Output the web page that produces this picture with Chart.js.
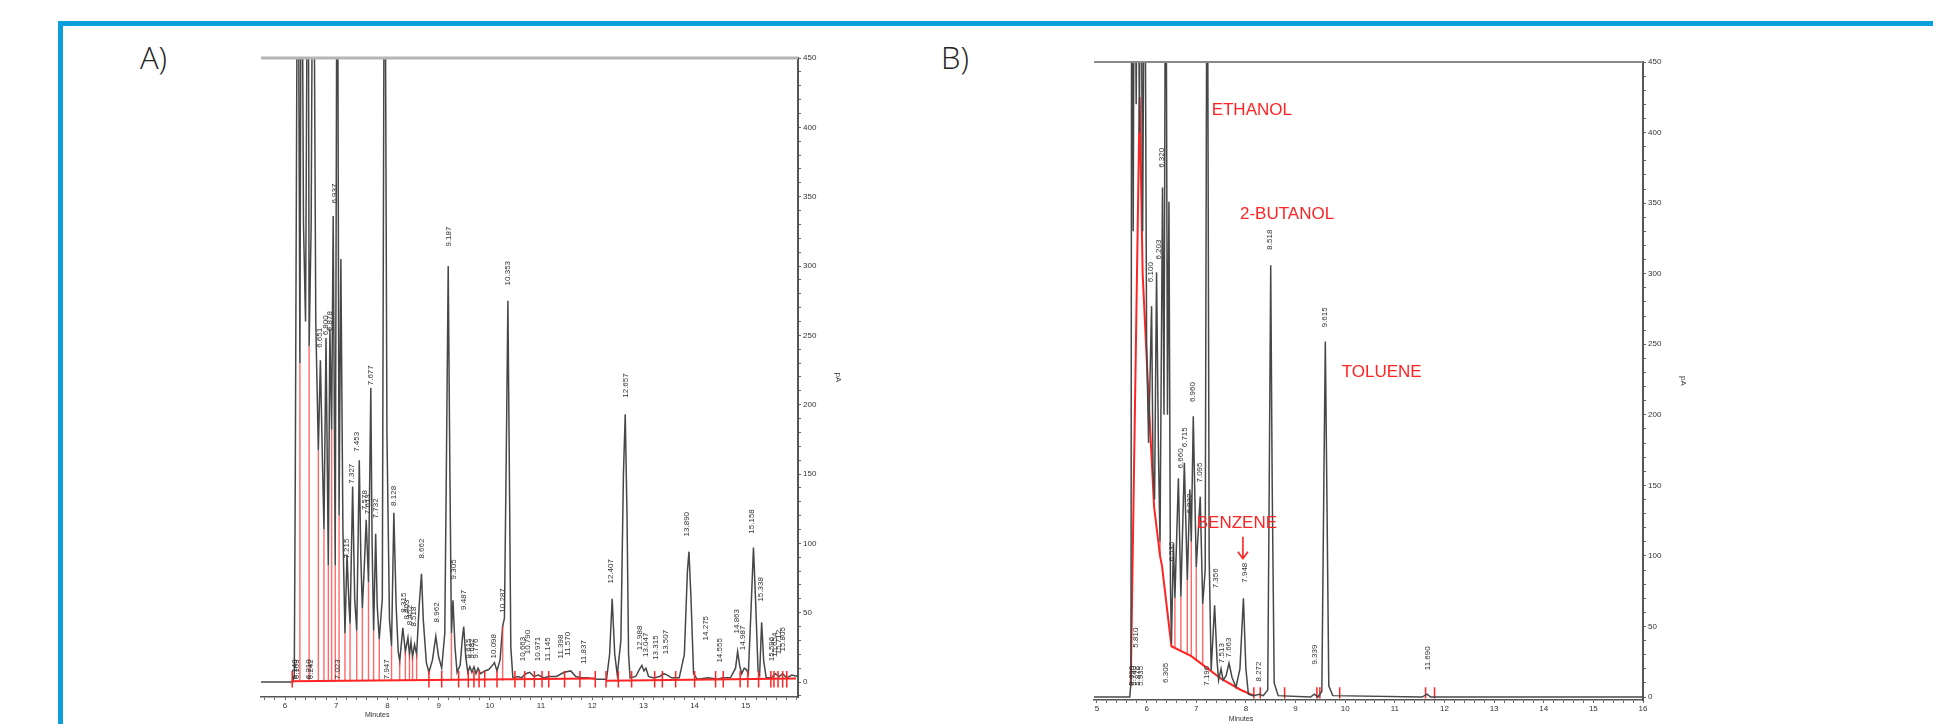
<!DOCTYPE html>
<html><head><meta charset="utf-8">
<script src="https://cdn.jsdelivr.net/npm/chart.js@4.4.1/dist/chart.umd.min.js"></script>
<style>
html,body{margin:0;padding:0;background:#fff;width:1933px;height:724px;overflow:hidden;position:relative}
#frame{position:absolute;left:58px;top:21px;width:2000px;height:800px;border-left:5px solid #0b9fdb;border-top:5px solid #0b9fdb;box-sizing:border-box}
.panel{position:absolute;font-family:"Open Sans",sans-serif;font-weight:300;font-size:31px;line-height:31px;color:#222}
canvas{position:absolute}
</style></head><body>
<div id="frame"></div>
<div class="panel" style="left:140px;top:42px">A)</div>
<div class="panel" style="left:941px;top:42px">B)</div>
<canvas id="ca" width="700" height="694" style="left:200px;top:30px"></canvas>
<canvas id="cb" width="700" height="694" style="left:1040px;top:30px"></canvas>
<script>
// ---------- Panel A data (time in minutes, signal in pA) ----------
const traceA = [[5.53,0],[6.15,0],[6.18,4],[6.20,150],[6.25,640],[6.29,230],[6.32,640],[6.36,330],[6.40,260],[6.45,640],[6.47,242],[6.51,330],[6.55,640],[6.60,260],[6.65,167],[6.69,232],[6.73,160],[6.76,110],[6.80,248],[6.845,84],[6.875,255],[6.91,182],[6.94,336],[6.98,84],[7.02,640],[7.055,120],[7.09,305],[7.13,110],[7.17,35],[7.21,92],[7.25,55],[7.27,42],[7.32,141],[7.36,60],[7.40,37],[7.45,160],[7.48,90],[7.51,53],[7.55,85],[7.585,117],[7.63,72],[7.675,212],[7.70,100],[7.73,37],[7.77,107],[7.80,55],[7.84,31],[7.90,60],[7.945,640],[7.99,180],[8.04,45],[8.08,26],[8.125,122],[8.17,55],[8.21,22],[8.24,15],[8.30,39],[8.35,22],[8.40,32],[8.43,20],[8.46,29],[8.49,18],[8.53,27],[8.57,20],[8.62,55],[8.665,78],[8.70,45],[8.76,14],[8.81,7],[8.88,16],[8.945,33],[9.00,18],[9.06,10],[9.12,35],[9.15,150],[9.187,300],[9.22,150],[9.25,35],[9.28,59],[9.32,25],[9.36,7],[9.42,12],[9.46,30],[9.49,40],[9.53,18],[9.57,7],[9.61,11],[9.65,7],[9.69,11],[9.73,6],[9.77,10],[9.82,6],[9.90,8],[9.98,9],[10.05,12],[10.09,14],[10.14,8],[10.20,16],[10.25,40],[10.285,46],[10.32,160],[10.353,275],[10.38,160],[10.41,25],[10.45,3],[10.55,4],[10.62,3],[10.70,6],[10.78,7],[10.86,4],[10.95,5],[11.05,3],[11.15,4],[11.30,4],[11.45,7],[11.58,8],[11.68,4],[11.80,3],[11.90,3],[12.10,2],[12.28,2],[12.34,20],[12.39,60],[12.44,20],[12.49,5],[12.56,30],[12.61,150],[12.645,193],[12.68,120],[12.71,20],[12.74,3],[12.85,4],[12.92,9],[12.97,12],[13.01,8],[13.05,10],[13.10,4],[13.20,3],[13.32,4],[13.40,6],[13.47,5],[13.55,3],[13.70,3],[13.80,20],[13.86,80],[13.89,94],[13.93,60],[13.98,6],[14.05,2],[14.27,3],[14.45,2],[14.55,3],[14.70,3],[14.80,10],[14.84,22],[14.88,12],[14.92,6],[14.97,10],[15.01,9],[15.05,6],[15.10,50],[15.15,97],[15.19,60],[15.24,8],[15.27,5],[15.31,43],[15.35,15],[15.40,3],[15.50,3],[15.58,6],[15.65,4],[15.72,6],[15.80,3],[15.90,5],[16.02,4]];
const baseA = [[6.13,0.5],[12.06,2.5],[12.16,null],[12.27,1],[15.98,2.5]];
const dropsA = [[6.29,230],[6.47,242],[6.65,167],[6.76,110],[6.845,84],[6.91,182],[6.98,84],[7.055,120],[7.17,35],[7.27,42],[7.40,37],[7.51,53],[7.63,72],[7.73,37],[7.84,31],[8.08,26],[8.24,15],[8.35,22],[8.43,20],[8.49,18],[8.57,20],[9.25,35],[10.25,40]];
const marksA = [6.14,8.81,9.06,9.39,9.58,9.69,9.79,9.90,10.14,10.49,10.68,10.87,11.02,11.15,11.46,11.76,12.06,12.27,12.51,12.77,13.22,13.37,13.63,14.0,14.41,14.56,14.89,15.04,15.25,15.49,15.55,15.63,15.72,15.80];
const peakLabelsA = [["6.148",6.19,2],["6.163",6.23,2],["6.210",6.46,2],["6.242",6.50,2],["6.651",6.68,241],["6.800",6.80,250],["6.878",6.88,253],["6.937",6.97,345],["7.023",7.03,2],["7.215",7.215,89],["7.327",7.30,143],["7.453",7.41,166],["7.578",7.55,124],["7.613",7.61,121],["7.677",7.67,214],["7.732",7.77,118],["7.947",7.99,2],["8.128",8.125,127],["8.315",8.316,50],["8.403",8.38,45],["8.452",8.44,41],["8.518",8.51,40],["8.662",8.67,89],["8.962",8.96,43],["9.187",9.19,314],["9.305",9.30,74],["9.487",9.49,52],["9.615",9.59,17],["9.682",9.65,17],["9.776",9.73,17],["10.098",10.08,17],["10.287",10.26,50],["10.353",10.35,286],["10.663",10.64,15],["10.790",10.75,20],["10.971",10.94,15],["11.145",11.13,15],["11.398",11.39,17],["11.570",11.52,19],["11.837",11.84,13],["12.407",12.37,71],["12.657",12.66,205],["12.988",12.92,23],["13.047",13.04,18],["13.315",13.25,16],["13.507",13.43,20],["13.890",13.84,105],["14.275",14.22,30],["14.555",14.49,14],["14.863",14.82,35],["14.987",14.95,23],["15.158",15.11,107],["15.338",15.30,58],["15.596",15.50,15],["15.654",15.57,18],["15.712",15.64,20],["15.805",15.72,22]];
const xTickLabelsA = [6,7,8,9,10,11,12,13,14,15];

// ---------- Panel B data ----------
const traceB = [[4.94,0],[5.66,0],[5.685,10],[5.70,620],[5.73,330],[5.755,610],[5.79,420],[5.82,620],[5.855,400],[5.88,600],[5.92,330],[5.96,600],[6.00,250],[6.04,180],[6.10,277],[6.13,160],[6.16,140],[6.20,301],[6.24,170],[6.27,110],[6.32,361],[6.35,200],[6.385,620],[6.42,200],[6.45,351],[6.48,80],[6.50,38],[6.54,109],[6.57,70],[6.64,155],[6.69,71],[6.76,166],[6.82,83],[6.87,147],[6.90,110],[6.94,199],[7.00,92],[7.08,142],[7.13,66],[7.18,90],[7.22,620],[7.26,100],[7.30,19],[7.37,65],[7.42,25],[7.45,12],[7.50,20],[7.54,12],[7.60,15],[7.66,24],[7.72,14],[7.80,7],[7.88,20],[7.95,70],[8.00,20],[8.05,2],[8.15,1],[8.27,2],[8.35,1],[8.44,5],[8.47,150],[8.50,306],[8.53,150],[8.57,10],[8.65,1],[9.30,0],[9.38,2],[9.45,0],[9.53,4],[9.57,150],[9.60,252],[9.63,150],[9.67,8],[9.75,1],[11.55,0],[11.65,2],[11.72,0],[16.0,0]];
const baseB = [[5.68,8],[5.86,425],[5.92,300],[6.04,212],[6.15,135],[6.27,100],[6.31,93],[6.50,36],[6.9,29],[7.2,21],[7.5,13],[7.9,5],[8.16,1]];
const dropsB = [[6.13,148,160],[6.27,100,110],[6.57,34,70],[6.69,32,71],[6.82,30,83],[6.90,29,110],[7.00,27,92],[7.13,23,66]];
const marksB = [8.16,8.29,8.78,9.43,9.49,9.89,11.62,11.80];
const peakLabelsB = [["5.693",5.70,8],["5.740",5.745,8],["5.810",5.78,35],["5.876",5.83,8],["5.935",5.88,8],["6.100",6.08,294],["6.203",6.24,310],["6.320",6.31,375],["6.305",6.39,10],["6.535",6.50,96],["6.660",6.68,162],["6.715",6.77,177],["6.832",6.87,130],["6.960",6.94,209],["7.095",7.08,152],["7.196",7.21,8],["7.356",7.39,77],["7.513",7.51,24],["7.663",7.66,28],["7.948",7.97,81],["8.272",8.26,11],["8.518",8.48,317],["9.339",9.39,23],["9.615",9.59,262],["11.690",11.67,19]];
const compoundNotesB = [["ETHANOL",7.31,416],["2-BUTANOL",7.88,342],["TOLUENE",9.93,230],["BENZENE",7.01,123]];
const benzeneArrow = [7.94,113.5,98];
const xTickLabelsB = [5,6,7,8,9,10,11,12,13,14,15,16];
const yTickLabels = [0,50,100,150,200,250,300,350,400,450];

// ---------- helpers ----------
const FONT = '"Liberation Sans", Arial, sans-serif';
const RED = '#ff2424';
const xy = arr => arr.map(([x, y]) => ({x, y}));
function dropSegs(list, base) {
  const out = [];
  for (const d of list) {
    const b = d.length === 3 ? d[1] : base;
    const t = d.length === 3 ? d[2] : d[1];
    out.push({x: d[0], y: b}, {x: d[0], y: t}, {x: d[0], y: null});
  }
  return out;
}
function markSegs(list, lo, hi) {
  const out = [];
  for (const t of list) out.push({x: t, y: lo}, {x: t, y: hi}, {x: t, y: null});
  return out;
}
const inList = (list, v) => list.some(l => Math.abs(l - v) < 1e-6);

function decoPlugin(c) {
  return {
    id: 'deco',
    afterDatasetsDraw(chart) {
      const ctx = chart.ctx, xs = chart.scales.x, ys = chart.scales.y, a = chart.chartArea;
      ctx.save();
      ctx.strokeStyle = c.topColor; ctx.lineWidth = c.topWidth;
      ctx.beginPath(); ctx.moveTo(a.left, a.top); ctx.lineTo(a.right, a.top); ctx.stroke();
      ctx.fillStyle = '#333'; ctx.font = '8px ' + FONT;
      ctx.textAlign = 'left'; ctx.textBaseline = 'middle';
      for (const [txt, t, v] of c.labels) {
        ctx.save();
        ctx.translate(xs.getPixelForValue(t), ys.getPixelForValue(v));
        ctx.rotate(-Math.PI / 2);
        ctx.fillText(txt, 0, 0);
        ctx.restore();
      }
      ctx.font = '7px ' + FONT; ctx.fillStyle = '#333'; ctx.textAlign = 'center';
      ctx.fillText('Minutes', xs.getPixelForValue(c.minutesT), a.bottom + c.minutesDy);
      if (c.notes) {
        ctx.fillStyle = RED; ctx.font = '17px ' + FONT; ctx.textAlign = 'left'; ctx.textBaseline = 'middle';
        for (const [txt, t, v] of c.notes) ctx.fillText(txt, xs.getPixelForValue(t), ys.getPixelForValue(v));
      }
      if (c.arrow) {
        const [t, v0, v1] = c.arrow;
        const x = xs.getPixelForValue(t), y0 = ys.getPixelForValue(v0), y1 = ys.getPixelForValue(v1);
        ctx.strokeStyle = RED; ctx.lineWidth = 1.6;
        ctx.beginPath(); ctx.moveTo(x, y0); ctx.lineTo(x, y1);
        ctx.moveTo(x - 5, y1 - 7); ctx.lineTo(x, y1); ctx.lineTo(x + 5, y1 - 7); ctx.stroke();
      }
      ctx.restore();
    }
  };
}

function makeChart(id, c) {
  const common = {pointRadius: 0, tension: 0, fill: false, spanGaps: false};
  new Chart(document.getElementById(id), {
    type: 'line',
    data: {datasets: [
      Object.assign({data: xy(c.trace), borderColor: '#474747', borderWidth: 1.5, order: c.traceOrder}, common),
      Object.assign({data: dropSegs(c.drops, c.dropBase), borderColor: 'rgba(255,40,40,0.7)', borderWidth: 1.4, order: 2}, common),
      Object.assign({data: xy(c.base), borderColor: RED, borderWidth: 2, order: 2}, common),
      Object.assign({data: markSegs(c.marks, c.markLo, c.markHi), borderColor: RED, borderWidth: 1.5, order: 1}, common)
    ]},
    options: {
      responsive: false, animation: false, events: [],
      layout: {padding: c.pad},
      plugins: {legend: {display: false}, tooltip: {enabled: false}},
      scales: {
        x: {
          type: 'linear', position: 'bottom', min: c.xmin, max: c.xmax,
          afterFit: s => { s.height = c.xh; },
          border: {display: true, color: '#555', width: 1.6},
          grid: {display: true, drawOnChartArea: false, drawTicks: true, tickLength: 3, tickColor: '#666'},
          ticks: {stepSize: 0.2, autoSkip: false, maxRotation: 0, minRotation: 0, includeBounds: false, padding: 1,
            color: '#333', font: {family: FONT, size: 8},
            callback: v => inList(c.xLabels, v) ? String(Math.round(v)) : ''}
        },
        y: {
          type: 'linear', position: 'right', min: c.ymin, max: 450,
          afterFit: s => { s.width = 45; },
          border: {display: true, color: '#555', width: 2},
          grid: {display: true, drawOnChartArea: false, drawTicks: true, tickLength: 3, tickColor: '#666'},
          ticks: {stepSize: 10, autoSkip: false, includeBounds: false, padding: 2,
            color: '#333', font: {family: FONT, size: 8},
            callback: v => inList(yTickLabels, v) ? String(Math.round(v)) : ''},
          title: {display: true, text: 'pA', color: '#333', font: {family: FONT, size: 8}, padding: 0}
        }
      }
    },
    plugins: [decoPlugin(c)]
  });
}

makeChart('ca', {
  trace: traceA, base: baseA, drops: dropsA, dropBase: 1, marks: marksA, markLo: -4, markHi: 8,
  labels: peakLabelsA, xLabels: xTickLabelsA, xmin: 5.53, xmax: 16.02, ymin: -10.8, traceOrder: 3,
  pad: {left: 61, top: 28, right: 57, bottom: 0}, xh: 27,
  topColor: '#b5b5b5', topWidth: 3, minutesT: 7.8, minutesDy: 18
});
makeChart('cb', {
  trace: traceB, base: baseB, drops: dropsB, dropBase: 0, marks: marksB, markLo: -1, markHi: 7,
  labels: peakLabelsB, xLabels: xTickLabelsB, xmin: 4.94, xmax: 16.0, ymin: -2.1, traceOrder: 0,
  pad: {left: 54, top: 32, right: 52, bottom: 0}, xh: 24,
  topColor: '#8a8a8a', topWidth: 2, minutesT: 7.9, minutesDy: 19,
  notes: compoundNotesB, arrow: benzeneArrow
});
</script>
</body></html>
